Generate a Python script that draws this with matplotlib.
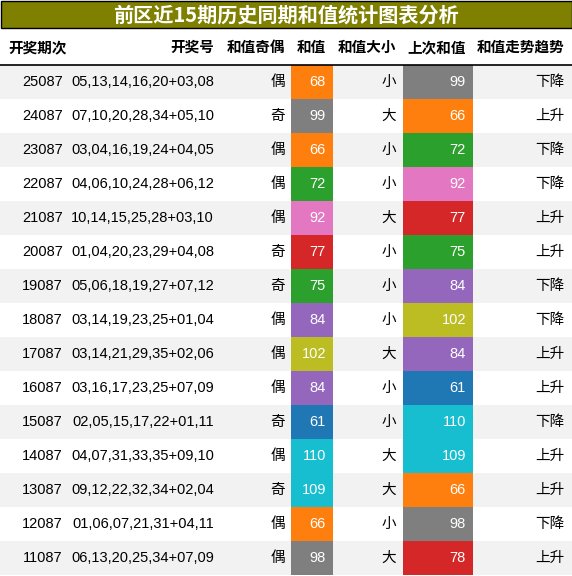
import matplotlib.pyplot as plt
from matplotlib.patches import Rectangle

plt.rcParams['font.family'] = ['Liberation Sans', 'Noto Sans CJK SC', 'DejaVu Sans']

title = "前区近15期历史同期和值统计图表分析"
headers = ["开奖期次", "开奖号", "和值奇偶", "和值", "和值大小", "上次和值", "和值走势趋势"]
periods = ["25087", "24087", "23087", "22087", "21087", "20087", "19087", "18087",
           "17087", "16087", "15087", "14087", "13087", "12087", "11087"]
numbers = ["05,13,14,16,20+03,08", "07,10,20,28,34+05,10", "03,04,16,19,24+04,05",
           "04,06,10,24,28+06,12", "10,14,15,25,28+03,10", "01,04,20,23,29+04,08",
           "05,06,18,19,27+07,12", "03,14,19,23,25+01,04", "03,14,21,29,35+02,06",
           "03,16,17,23,25+07,09", "02,05,15,17,22+01,11", "04,07,31,33,35+09,10",
           "09,12,22,32,34+02,04", "01,06,07,21,31+04,11", "06,13,20,25,34+07,09"]
parity = ["偶", "奇", "偶", "偶", "偶", "奇", "奇", "偶", "偶", "偶", "奇", "偶", "奇", "偶", "偶"]
sums = [68, 99, 66, 72, 92, 77, 75, 84, 102, 84, 61, 110, 109, 66, 98]
size = ["小", "大", "小", "小", "大", "小", "小", "小", "大", "小", "小", "大", "大", "小", "大"]
prev_sums = [99, 66, 72, 92, 77, 75, 84, 102, 84, 61, 110, 109, 66, 98, 78]
trend = ["下降", "上升", "下降", "下降", "上升", "上升", "下降", "下降", "上升", "上升",
         "下降", "上升", "上升", "下降", "上升"]

value_colors = {61: "#1f77b4", 66: "#ff7f0e", 68: "#ff7f0e", 72: "#2ca02c", 75: "#2ca02c",
                77: "#d62728", 78: "#d62728", 84: "#9467bd", 92: "#e377c2", 98: "#7f7f7f",
                99: "#7f7f7f", 102: "#bcbd22", 109: "#17becf", 110: "#17becf"}

W, H = 572, 576
fig = plt.figure(figsize=(W / 100, H / 100), dpi=100)
ax = fig.add_axes([0, 0, 1, 1])
ax.set_xlim(0, W)
ax.set_ylim(H, 0)
ax.axis("off")

# title bar
ax.add_patch(Rectangle((0.5, 0.5), W - 1, 27.5, facecolor="#808000", edgecolor="black", lw=1))
ax.text(W / 2, 15, title, color="white", fontsize=14.5, fontweight="bold",
        ha="center", va="center", family=["Noto Sans CJK SC"])

# header
right_x = [None, 214, 285, 326, 396, 466, 564]
hy = 47
ax.text(8, hy, headers[0], fontsize=10.5, fontweight="bold", ha="left", va="center",
        family=["Noto Sans CJK SC"])
for h, x in zip(headers[1:], right_x[1:]):
    ax.text(x, hy, h, fontsize=10.5, fontweight="bold", ha="right", va="center",
            family=["Noto Sans CJK SC"])
ax.plot([0, W], [64.5, 64.5], color="black", lw=1.2)

top, rh = 65, 34
for i in range(len(periods)):
    y0 = top + i * rh
    yc = y0 + rh / 2
    if i % 2 == 0:
        ax.add_patch(Rectangle((0, y0), W, rh, facecolor="#f2f2f2", edgecolor="none"))
    ax.add_patch(Rectangle((291, y0), 42, rh, facecolor=value_colors[sums[i]], edgecolor="none"))
    ax.add_patch(Rectangle((403, y0), 70, rh, facecolor=value_colors[prev_sums[i]], edgecolor="none"))
    ax.text(63, yc, periods[i], fontsize=10.5, ha="right", va="center")
    ax.text(214, yc, numbers[i], fontsize=10.5, ha="right", va="center")
    ax.text(285, yc, parity[i], fontsize=10.5, ha="right", va="center", family=["Noto Sans CJK SC"])
    ax.text(326, yc, str(sums[i]), fontsize=10.5, ha="right", va="center", color="white")
    ax.text(396, yc, size[i], fontsize=10.5, ha="right", va="center", family=["Noto Sans CJK SC"])
    ax.text(466, yc, str(prev_sums[i]), fontsize=10.5, ha="right", va="center", color="white")
    ax.text(564, yc, trend[i], fontsize=10.5, ha="right", va="center", family=["Noto Sans CJK SC"])

fig.savefig("out.png", dpi=100)
